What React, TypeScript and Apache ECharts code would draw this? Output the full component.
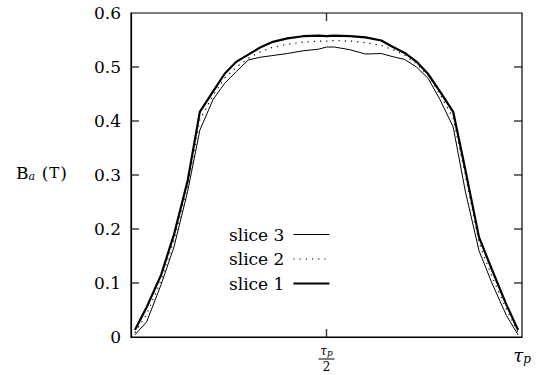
import React, { useEffect, useRef } from "react";
import * as echarts from "echarts";

const xs = [0.01, 0.04, 0.077, 0.11, 0.145, 0.176, 0.21, 0.24, 0.27, 0.3, 0.33, 0.36, 0.4, 0.44, 0.48, 0.5, 0.52, 0.56, 0.6, 0.64, 0.67, 0.7, 0.73, 0.76, 0.79, 0.824, 0.855, 0.89, 0.923, 0.96, 0.99];
const slice1 = [0.013, 0.055, 0.115, 0.19, 0.29, 0.417, 0.455, 0.488, 0.51, 0.523, 0.536, 0.546, 0.553, 0.557, 0.558, 0.557, 0.558, 0.557, 0.555, 0.549, 0.537, 0.526, 0.51, 0.487, 0.455, 0.417, 0.31, 0.185, 0.125, 0.06, 0.013];
const slice2 = [0.008, 0.042, 0.105, 0.18, 0.28, 0.402, 0.448, 0.48, 0.5, 0.516, 0.528, 0.536, 0.542, 0.546, 0.548, 0.548, 0.549, 0.548, 0.545, 0.54, 0.532, 0.522, 0.506, 0.484, 0.45, 0.405, 0.3, 0.175, 0.112, 0.052, 0.008];
const slice3 = [0.004, 0.028, 0.097, 0.167, 0.27, 0.383, 0.44, 0.47, 0.492, 0.513, 0.518, 0.521, 0.525, 0.53, 0.533, 0.537, 0.537, 0.532, 0.524, 0.525, 0.519, 0.514, 0.5, 0.479, 0.44, 0.389, 0.27, 0.16, 0.1, 0.04, 0.004];
const seriesNames = ["slice 3", "slice 2", "slice 1"];
const xTickValues = [0, 0.5, 1];
const xTickLabels = ["", "frac", "tau"];
const yTickValues = [0, 0.1, 0.2, 0.3, 0.4, 0.5, 0.6];

const FONT = "DejaVu Serif";
const W1 = 2.2;
const W2 = 1.2;
const W3 = 1;
const TICK_LEN = 8;
const TICK_W = 1.4;

export default function App() {
  const ref = useRef<HTMLDivElement>(null);
  useEffect(() => {
    document.body.style.margin = "0";
    const chart = echarts.init(ref.current!, null, { renderer: "svg" });
    const pairs = (ys: number[]) => xs.map((x, i) => [x, ys[i]]);
    const xMin = xTickValues[0];
    const xMax = xTickValues[xTickValues.length - 1];
    const yMin = yTickValues[0];
    const yMax = yTickValues[yTickValues.length - 1];
    const innerY = yTickValues.slice(1, -1);
    const innerX = xTickValues.slice(1, -1);
    const tickSeries = (data: number[][], size: number[], offset: number[]) => ({
      type: "scatter",
      silent: true,
      clip: false,
      z: 10,
      symbol: "rect",
      symbolSize: size,
      symbolOffset: offset,
      itemStyle: { color: "#000" },
      data,
    });
    const labelRich = {
      t: { fontFamily: FONT, fontStyle: "italic", fontSize: 18, color: "#000" },
      p: { fontFamily: FONT, fontStyle: "italic", fontSize: 12, color: "#000", padding: [8, 0, 0, 0] },
      tn: { fontFamily: FONT, fontStyle: "italic", fontSize: 12, color: "#000", lineHeight: 12 },
      pn: { fontFamily: FONT, fontStyle: "italic", fontSize: 9, color: "#000", lineHeight: 12, padding: [4, 0, 0, 0] },
      bar: { width: 16, height: 1, backgroundColor: "#000", lineHeight: 4 },
      d: { fontFamily: FONT, fontSize: 12, color: "#000", lineHeight: 12, align: "center" },
    };
    const line = () => ({ show: true, onZero: false, lineStyle: { color: "#000", width: 1.2 } });
    const dotted = [1.2, 5];
    chart.setOption({
      animation: false,
      backgroundColor: "#fff",
      grid: { left: 131, right: 16, top: 13, bottom: 38, show: true, borderColor: "#000", borderWidth: 1.2 },
      xAxis: [
        {
          type: "value",
          min: xMin,
          max: xMax,
          interval: 0.5,
          axisLine: line(),
          axisTick: { show: false },
          splitLine: { show: false },
          axisLabel: {
            margin: 8,
            formatter: (v: number) => {
              const idx = xTickValues.findIndex((t) => Math.abs(t - v) < 1e-6);
              const k = idx >= 0 ? xTickLabels[idx] : "";
              if (k === "frac") return "{tn|τ}{pn|p}\n{bar|}\n{d|2}";
              if (k === "tau") return "{t|τ}{p|p}";
              return "";
            },
            rich: labelRich,
          },
        },
      ],
      yAxis: [
        {
          type: "value",
          position: "left",
          min: yMin,
          max: yMax,
          interval: 0.1,
          axisLine: line(),
          axisTick: { show: false },
          splitLine: { show: false },
          axisLabel: {
            margin: 10,
            fontFamily: FONT,
            fontSize: 17,
            color: "#000",
            formatter: (v: number) => {
              const t = yTickValues.find((y) => Math.abs(y - v) < 1e-6);
              return t === undefined ? "" : String(t);
            },
          },
        },
      ],
      legend: {
        orient: "vertical",
        align: "right",
        left: 224,
        top: 221,
        itemWidth: 36,
        itemHeight: 14,
        itemGap: 7.5,
        data: [
          { name: seriesNames[0], lineStyle: { width: W3, color: "#000" } },
          { name: seriesNames[1], lineStyle: { width: W2, color: "#000", type: dotted } },
          { name: seriesNames[2], lineStyle: { width: W1, color: "#000" } },
        ],
        itemStyle: { opacity: 0 },
        textStyle: { fontFamily: FONT, fontSize: 17, color: "#000", padding: [0, 4, 0, 0] },
      },
      graphic: [
        {
          type: "text",
          left: 16,
          top: 164,
          style: {
            text: "{b|B}{s|a}  {b|(}{c|T}{b|)}",
            rich: {
              b: { fontFamily: FONT, fontSize: 17, color: "#000" },
              c: { fontFamily: FONT, fontSize: 15, color: "#000", padding: [0, 1, 0, 1] },
              s: { fontFamily: FONT, fontStyle: "italic", fontSize: 11, color: "#000", padding: [8, 0, 0, 0] },
            },
          },
        },
      ],
      series: [
        {
          name: "slice 3",
          type: "line",
          data: pairs(slice3),
          showSymbol: false,
          symbol: "none",
          lineStyle: { color: "#000", width: W3 },
          itemStyle: { color: "#000" },
        },
        {
          name: "slice 2",
          type: "line",
          data: pairs(slice2),
          showSymbol: false,
          symbol: "none",
          lineStyle: { color: "#000", width: W2, type: dotted },
          itemStyle: { color: "#000" },
        },
        {
          name: "slice 1",
          type: "line",
          data: pairs(slice1),
          showSymbol: false,
          symbol: "none",
          lineStyle: { color: "#000", width: W1 },
          itemStyle: { color: "#000" },
        },
        tickSeries(innerY.map((v) => [xMin, v]), [TICK_LEN, TICK_W], [TICK_LEN / 2, 0]),
        tickSeries(innerY.map((v) => [xMax, v]), [TICK_LEN, TICK_W], [-TICK_LEN / 2, 0]),
        tickSeries(innerX.map((v) => [v, yMin]), [TICK_W, TICK_LEN], [0, -TICK_LEN / 2]),
        tickSeries(innerX.map((v) => [v, yMax]), [TICK_W, TICK_LEN], [0, TICK_LEN / 2]),
      ],
    });
    return () => chart.dispose();
  }, []);
  return <div ref={ref} style={{ width: 538, height: 375 }} />;
}
